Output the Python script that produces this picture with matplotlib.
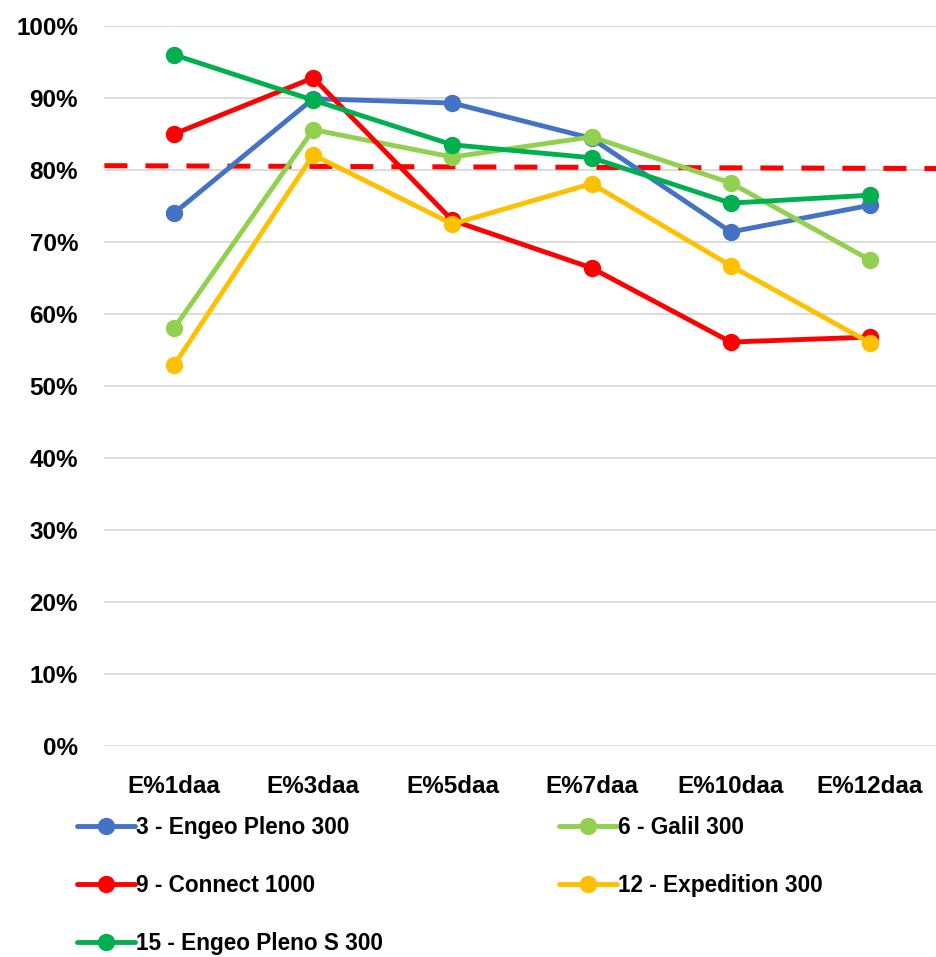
import matplotlib
matplotlib.use("Agg")
import matplotlib.pyplot as plt

plt.rcParams['font.family'] = ['Liberation Sans', 'DejaVu Sans']
plt.rcParams['font.weight'] = 'bold'

categories = ["E%1daa", "E%3daa", "E%5daa", "E%7daa", "E%10daa", "E%12daa"]
s3_engeo_pleno = [74.0, 89.9, 89.3, 84.4, 71.4, 75.1]
s6_galil = [58.0, 85.6, 81.8, 84.6, 78.2, 67.5]
s9_connect = [85.0, 92.8, 73.0, 66.4, 56.1, 56.8]
s12_expedition = [52.9, 82.1, 72.5, 78.1, 66.7, 56.0]
s15_engeo_pleno_s = [96.0, 89.7, 83.5, 81.7, 75.4, 76.5]
series_names = ["3 - Engeo Pleno 300", "6 - Galil 300", "9 - Connect 1000",
                "12 - Expedition 300", "15 - Engeo Pleno S 300"]
series_values = [s3_engeo_pleno, s6_galil, s9_connect, s12_expedition, s15_engeo_pleno_s]
colors = ["#4472C4", "#92D050", "#FF0000", "#FFC000", "#00B050"]
threshold_start, threshold_end = 80.6, 80.2
yticks = [0, 10, 20, 30, 40, 50, 60, 70, 80, 90, 100]

W, H = 937, 957
fig = plt.figure(figsize=(W / 100, H / 100), dpi=100)
left, right = 104.4, 939.6
top, bottom = 26, 746
ax = fig.add_axes([left / W, (H - bottom) / H, (right - left) / W, (bottom - top) / H])

x = list(range(len(categories)))
ax.set_xlim(-0.5, len(categories) - 0.5)
ax.set_ylim(0, 100)

ax.plot([-0.5, len(categories) - 0.5], [threshold_start, threshold_end],
        color="#FF0000", lw=3.6, dashes=(4.6, 3.6), zorder=2, clip_on=False)

handles = []
for name, vals, c in zip(series_names, series_values, colors):
    h, = ax.plot(x, vals, color=c, lw=3.5, marker='o', markersize=11.5,
                 label=name, zorder=3, solid_capstyle='round')
    handles.append(h)

ax.set_yticks(yticks)
ax.set_yticklabels([f"{v}%" for v in yticks])
ax.set_xticks(x)
ax.set_xticklabels(categories)
ax.tick_params(axis='y', length=0, pad=19, labelsize=17.5)
ax.tick_params(axis='x', length=0, pad=21, labelsize=17.5)
for lab in ax.get_xticklabels() + ax.get_yticklabels():
    lab.set_fontweight('bold')
ax.grid(axis='y', color='#D9D9D9', lw=1.3, zorder=0)
ax.grid(axis='x', visible=False)
for sp in ax.spines.values():
    sp.set_visible(False)
ax.set_axisbelow(True)

order = [0, 2, 4, 1, 3]
leg = fig.legend([handles[i] for i in order], [series_names[i] for i in order],
                 ncol=2, loc='upper left', bbox_to_anchor=(77 / W, 1 - 816 / H),
                 frameon=False, handlelength=2.55, handletextpad=0.05,
                 labelspacing=1.55, columnspacing=7.8, borderpad=0, borderaxespad=0,
                 prop={'weight': 'bold', 'size': 16.3})

fig.savefig("out.png", dpi=100, facecolor='white')
